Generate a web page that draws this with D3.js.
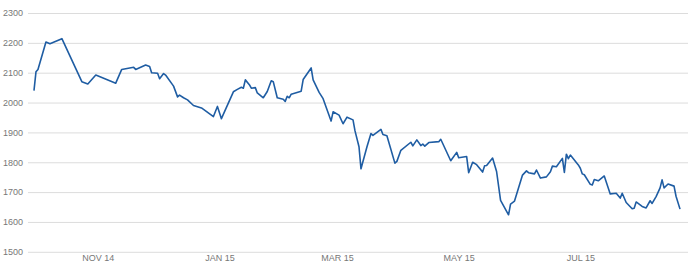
<!DOCTYPE html>
<html>
<head>
<meta charset="utf-8">
<script src="https://cdn.jsdelivr.net/npm/d3@7"></script>
<style>
  body { margin: 0; background: #fff; }
  svg { display: block; font-family: Roboto, "Open Sans", sans-serif; }
</style>
</head>
<body>
<svg id="chart" width="700" height="272"></svg>
<script>
// values
const dates = [
  "2014-09-30","2014-10-01","2014-10-02","2014-10-06","2014-10-08","2014-10-14","2014-10-24","2014-10-27","2014-10-31",
  "2014-11-10","2014-11-13","2014-11-19","2014-11-20","2014-11-25","2014-11-27","2014-11-28",
  "2014-12-01","2014-12-02","2014-12-04","2014-12-05","2014-12-09","2014-12-11","2014-12-12","2014-12-14","2014-12-16",
  "2014-12-19","2014-12-23","2014-12-29","2014-12-31",
  "2015-01-02","2015-01-08","2015-01-10","2015-01-12","2015-01-13","2015-01-14","2015-01-16","2015-01-17","2015-01-19",
  "2015-01-20","2015-01-23","2015-01-25","2015-01-27","2015-01-28","2015-01-30",
  "2015-02-02","2015-02-03","2015-02-04","2015-02-05","2015-02-06","2015-02-11","2015-02-12","2015-02-16","2015-02-17",
  "2015-02-20","2015-02-22","2015-02-26","2015-02-27",
  "2015-03-02","2015-03-04","2015-03-06","2015-03-09","2015-03-10","2015-03-12","2015-03-13","2015-03-16","2015-03-18",
  "2015-03-19","2015-03-23","2015-03-24","2015-03-26","2015-03-30","2015-03-31",
  "2015-04-02","2015-04-07","2015-04-08","2015-04-10","2015-04-12","2015-04-13","2015-04-14","2015-04-16","2015-04-21",
  "2015-04-22","2015-04-27","2015-04-30",
  "2015-05-01","2015-05-05","2015-05-06","2015-05-08","2015-05-10","2015-05-13","2015-05-14","2015-05-15","2015-05-18",
  "2015-05-20","2015-05-22","2015-05-26","2015-05-27","2015-05-29",
  "2015-06-02","2015-06-04","2015-06-05","2015-06-08","2015-06-09","2015-06-11","2015-06-14","2015-06-16","2015-06-17",
  "2015-06-19","2015-06-22","2015-06-23","2015-06-24","2015-06-25","2015-06-26","2015-06-30",
  "2015-07-01","2015-07-02","2015-07-03","2015-07-06","2015-07-07","2015-07-08","2015-07-10","2015-07-13","2015-07-16",
  "2015-07-19","2015-07-21","2015-07-22","2015-07-24","2015-07-27","2015-07-28","2015-07-29",
  "2015-08-01","2015-08-03","2015-08-05","2015-08-06","2015-08-08","2015-08-10","2015-08-11","2015-08-12","2015-08-14",
  "2015-08-17","2015-08-18","2015-08-20"
];
const values = [
  2040,2103,2111,2203,2197,2214,2070,2062,2092,
  2065,2111,2118,2111,2126,2121,2100,
  2098,2080,2097,2092,2055,2019,2025,2016,2009,
  1990,1982,1953,1987,
  1946,2036,2044,2051,2048,2076,2060,2048,2050,
  2032,2016,2037,2073,2070,2016,
  2011,2004,2021,2016,2028,2038,2077,2116,2076,
  2034,2013,1938,1969,
  1958,1929,1951,1942,1905,1852,1778,1852,1896,
  1890,1910,1893,1889,1797,1803,
  1840,1867,1855,1875,1856,1861,1854,1866,1869,
  1877,1805,1833,
  1815,1819,1765,1800,1792,1767,1788,1789,1814,
  1769,1672,1624,1660,1670,
  1757,1771,1765,1761,1774,1747,1751,1768,1787,
  1785,1813,1766,1827,1812,1824,1791,
  1780,1761,1758,1726,1724,1742,1738,1754,1694,
  1696,1680,1696,1665,1644,1646,1667,
  1652,1647,1671,1662,1685,1714,1741,1714,1727,
  1720,1686,1643
];
const yTicks = [1500, 1600, 1700, 1800, 1900, 2000, 2100, 2200, 2300];
const xDomain = ["2014-09-27", "2015-08-24"];

const svg = d3.select("#chart");
const parse = d3.utcParse("%Y-%m-%d");
const data = dates.map((d, i) => ({ date: parse(d), value: values[i] }));

const plotLeft = 28, plotRight = 688, plotTop = 13, plotBottom = 251.8;

const x = d3.scaleUtc()
    .domain(xDomain.map(parse))
    .range([plotLeft, plotRight]);

const y = d3.scaleLinear()
    .domain([1500, 2300])
    .range([plotBottom, plotTop]);

// gridlines + y labels
const yAxis = svg.append("g")
    .attr("transform", `translate(${plotLeft},0)`)
    .call(d3.axisLeft(y).tickValues(yTicks).tickFormat(d3.format("d"))
        .tickSize(-(plotRight - plotLeft)).tickPadding(5));
yAxis.select(".domain").remove();
yAxis.selectAll(".tick line").attr("stroke", "#dcdcdc").attr("stroke-width", 1);
yAxis.selectAll(".tick text")
    .attr("fill", "#777")
    .style("font-size", "9px");

// month labels
const fmt = d3.utcFormat("%b %y");
const xAxis = svg.append("g")
    .attr("transform", `translate(0,${plotBottom})`)
    .call(d3.axisBottom(x).ticks(d3.utcMonth.every(2)).tickSize(0).tickPadding(3)
        .tickFormat(d => fmt(d).toUpperCase()));
xAxis.select(".domain").remove();
xAxis.selectAll(".tick text")
    .attr("fill", "#777")
    .style("font-size", "9px");

const line = d3.line()
    .x(d => x(d.date))
    .y(d => y(d.value));

svg.append("path")
    .datum(data)
    .attr("fill", "none")
    .attr("stroke", "#1f5da3")
    .attr("stroke-width", 1.6)
    .attr("stroke-linejoin", "round")
    .attr("d", line);
</script>
</body>
</html>
